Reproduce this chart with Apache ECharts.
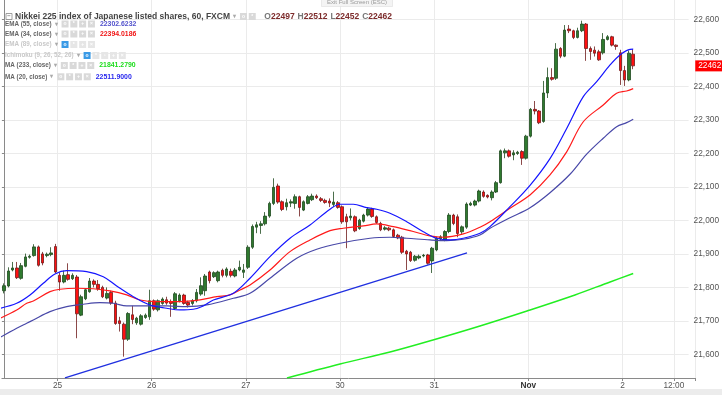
<!DOCTYPE html>
<html><head><meta charset="utf-8">
<script src="https://cdn.jsdelivr.net/npm/echarts@6/dist/echarts.min.js"></script>
<style>html,body{margin:0;padding:0;background:#fff}#c{width:722px;height:395px}</style>
</head><body><div id="c"></div>
<script>
// ---- data ----
// hourly candles [open, close, low, high]
const candles = [
[21790,21805,21782,21812],[21804,21849,21800,21860],[21852,21858,21848,21876],[21858,21829,21825,21876],
[21827,21865,21823,21873],[21863,21891,21860,21901],[21890,21893,21886,21898],[21895,21921,21892,21929],
[21921,21866,21862,21925],[21900,21873,21866,21906],[21895,21899,21890,21904],[21898,21903,21893,21920],
[21922,21846,21843,21930],[21836,21816,21790,21845],[21816,21836,21812,21850],[21838,21824,21820,21872],
[21826,21836,21822,21842],[21831,21721,21648,21837],[21717,21772,21714,21778],[21766,21793,21762,21798],
[21787,21819,21784,21828],[21819,21809,21800,21824],[21809,21796,21790,21822],[21800,21772,21768,21805],
[21768,21782,21764,21800],[21785,21753,21748,21790],[21753,21692,21688,21760],[21700,21692,21668,21712],
[21690,21645,21593,21695],[21645,21722,21640,21726],[21718,21704,21690,21745],[21694,21708,21688,21712],
[21690,21715,21686,21720],[21710,21717,21706,21722],[21712,21760,21703,21793],[21760,21735,21730,21764],
[21733,21760,21728,21764],[21752,21765,21748,21770],[21763,21753,21748,21772],[21758,21752,21712,21764],
[21737,21781,21733,21786],[21760,21777,21755,21782],[21777,21752,21748,21781],[21755,21747,21740,21760],
[21752,21760,21746,21765],[21760,21785,21755,21795],[21780,21805,21775,21830],[21790,21834,21775,21840],
[21846,21820,21812,21850],[21832,21844,21828,21848],[21820,21846,21815,21850],[21851,21836,21830,21856],
[21836,21855,21830,21860],[21848,21836,21830,21856],[21834,21852,21830,21858],[21852,21860,21848,21880],
[21845,21852,21828,21870],[21860,21920,21855,21926],[21920,21982,21915,21988],[21980,21987,21962,21996],
[21985,21990,21960,21998],[21990,22013,21985,22025],[22013,22051,22008,22056],[22051,22099,22046,22126],
[22103,22055,22050,22110],[22056,22033,22028,22060],[22041,22053,22030,22065],[22052,22056,22040,22063],
[22051,22071,22035,22078],[22071,22039,22012,22074],[22031,22056,22028,22060],[22051,22071,22048,22076],
[22062,22073,22058,22080],[22073,22068,22064,22078],[22065,22060,22055,22070],[22060,22054,22050,22065],
[22058,22052,22040,22066],[22048,22055,22040,22086],[22053,22039,22035,22058],[22041,21996,21990,22045],
[22011,21996,21917,22020],[22008,22013,22000,22036],[22011,21969,21965,22015],[21976,22001,21972,22005],
[21998,22016,21994,22020],[22016,22034,22012,22040],[22034,22012,22008,22038],[22011,21994,21990,22015],
[21991,21972,21968,21996],[21974,21978,21970,21983],[21977,21972,21968,21981],[21972,21952,21948,21976],
[21956,21948,21944,21960],[21950,21905,21900,21954],[21908,21900,21852,21912],[21905,21880,21876,21909],
[21881,21893,21877,21897],[21888,21893,21884,21898],[21894,21896,21890,21900],[21897,21872,21868,21900],
[21879,21917,21843,21921],[21912,21947,21908,21952],[21945,21951,21940,21956],[21942,21967,21938,21971],
[21967,22016,21962,22022],[22016,21991,21986,22020],[22011,21961,21950,22018],[21966,21981,21960,21985],
[21980,22049,21975,22054],[22046,22051,22043,22056],[22046,22058,22042,22062],[22058,22088,22054,22092],
[22085,22072,22068,22090],[22075,22070,22066,22078],[22068,22085,22060,22090],[22085,22113,22082,22118],
[22113,22208,22110,22212],[22202,22208,22186,22215],[22208,22192,22188,22212],[22196,22202,22180,22210],
[22200,22204,22196,22208],[22206,22186,22166,22210],[22186,22252,22182,22256],[22252,22332,22248,22336],
[22332,22327,22317,22357],[22327,22292,22288,22330],[22296,22381,22292,22417],[22381,22427,22366,22457],
[22427,22422,22418,22455],[22425,22512,22420,22530],[22514,22491,22485,22518],[22491,22569,22488,22584],
[22572,22567,22560,22584],[22567,22547,22542,22570],[22547,22567,22544,22576],[22567,22587,22563,22597],
[22587,22514,22477,22590],[22514,22505,22480,22520],[22509,22500,22490,22520],[22504,22480,22477,22510],
[22501,22541,22496,22560],[22541,22549,22538,22554],[22549,22524,22520,22552],[22524,22520,22510,22526],
[22501,22448,22405,22510],[22448,22420,22402,22462],[22420,22500,22416,22508],[22497,22462,22452,22512]
];
// indicator lines: [candle index, value]
const ma20 = [[-0.94,21737.6],[2.96,21752.5],[6.07,21777.4],[9.17,21812.3],[11.91,21840.1],[14.64,21850.0],[19.31,21847.0],[23.19,21832.0],[26.32,21804.2],[30.2,21772.3],[34.1,21747.5],[38.0,21737.6],[41.1,21732.5],[44.2,21734.6],[46.56,21744.5],[48.9,21762.4],[53.57,21782.4],[57.47,21827.3],[62.14,21891.8],[66.81,21946.8],[71.49,21986.6],[76.16,22033.5],[78.5,22048.4],[81.6,22048.4],[84.73,22038.3],[87.07,22033.5],[90.18,22021.5],[94.08,21996.4],[97.96,21966.5],[101.09,21946.8],[104.2,21941.7],[107.3,21946.8],[111.2,21961.7],[113.54,21981.5],[118.21,22041.2],[122.89,22105.0],[127.56,22185.0],[131.46,22275.0],[135.34,22370.0],[138.47,22414.8],[141.6,22464.7],[143.9,22494.6],[146.26,22511.6],[147,22511.9]];
const ema34 = [[-0.94,21707.7],[2.96,21732.5],[5.29,21752.5],[6.84,21759.4],[10.74,21787.2],[13.07,21794.4],[16.98,21797.4],[20.86,21795.9],[24.76,21789.3],[28.66,21777.4],[31.77,21762.4],[35.67,21757.3],[41.11,21757.3],[45.79,21762.4],[49.69,21772.3],[52.8,21777.4],[55.13,21792.3],[57.47,21807.2],[62.14,21852.1],[66.81,21906.8],[71.49,21941.7],[76.16,21969.5],[79.27,21976.7],[83.94,21983.6],[87.07,21989.5],[90.95,21981.5],[94.85,21969.5],[99.52,21953.7],[102.63,21949.8],[107.3,21959.7],[111.2,21979.7],[113.54,21996.4],[118.21,22036.5],[122.89,22076.0],[127.56,22136.0],[131.46,22205.0],[135.34,22295.0],[140.0,22345.2],[143.13,22380.2],[145.47,22387.0],[147,22394.0186]];
const ema55 = [[-0.94,21650.3],[2.96,21677.8],[5.29,21692.8],[6.84,21702.6],[10.74,21727.4],[14.64,21742.4],[18.52,21749.6],[22.42,21754.3],[25.53,21752.5],[28.66,21744.5],[33.33,21744.5],[38.0,21744.5],[42.68,21742.4],[47.35,21747.5],[53.57,21767.5],[57.47,21782.4],[62.14,21827.3],[68.38,21887.0],[73.05,21913.9],[78.5,21931.9],[85.5,21946.8],[90.18,21949.8],[94.08,21946.8],[99.52,21941.7],[103.4,21939.6],[107.3,21943.8],[111.2,21956.7],[113.54,21976.7],[118.21,22008.0],[122.89,22038.0],[127.56,22083.0],[132.23,22138.0],[136.13,22198.0],[140.0,22245.7],[143.13,22280.3],[145.47,22292.3],[147,22302.6232]];
const ma233 = [[66.1,21529.3],[78.5,21571.1],[90.18,21607.0],[100.22,21642.9],[111.2,21684.7],[122.18,21729.5],[133.4,21777.4],[141.6,21816.2],[147,21841.279]];
const trendLine = [[14.24,21529.3],[108.17,21902.9]];
// x axis
const slotCount = 162;
const dayLabels = ['25','26','27','30','31','Nov','2','12:00'];
const dayLabelSlots = [13,35,57,79,101,123,145,157];
// y axis ticks
const yTickMin = 21600, yTickMax = 22600, yTickStep = 100;

// ---- chart ----
const FONT = 'Liberation Sans, Arial, sans-serif';
const categories = Array.from({length: slotCount}, (_, i) => String(i));
const labelMap = {};
dayLabelSlots.forEach((s, k) => { labelMap[s] = dayLabels[k]; });
const isDay = (i) => labelMap[i] !== undefined;
const last = candles[candles.length - 1];
const lastVal = (arr) => arr[arr.length - 1][1];

const slotW = 4.28, gridLeft = 1.9;
const gridRight = 722 - gridLeft - slotCount * slotW;
// y mapping: 22600 at y=19.7, 21600 at y=354.3
const pxPerUnit = (354.3 - 19.7) / (yTickMax - yTickMin);
const yMaxMain = yTickMax + 19.7 / pxPerUnit;
const yMinMain = yTickMin - (378 - 354.3) / pxPerUnit;

const icon = (bg) => ({width: 7, height: 7, backgroundColor: bg, color: '#fff', fontSize: 5, align: 'center', lineHeight: 7, fontFamily: FONT});
const rich = {
  box: {width: 6, height: 6, borderColor: '#888', borderWidth: 0.8, color: '#777', fontSize: 6, lineHeight: 6, align: 'center', fontFamily: FONT},
  t: {fontSize: 8.5, color: '#444', fontFamily: FONT, padding: [0, 0, 0, 3]},
  n: {fontSize: 6.3, color: '#666', fontFamily: FONT},
  nf: {fontSize: 6.3, color: '#c8c8c8', fontFamily: FONT},
  a: {fontSize: 5.5, color: '#aaa', fontFamily: FONT, padding: [0, 4, 0, 3]},
  s: {fontSize: 3, width: 1.8, fontFamily: FONT},
  ic: icon('#d9d9d9'),
  icl: icon('#e6e6e6'),
  icb: icon('#3a9ae6'),
  l: {fontSize: 8.5, color: '#777', fontFamily: FONT},
  ov: {fontSize: 8.5, color: '#7c2b2b', fontFamily: FONT, padding: [0, 3, 0, 0]},
  v55: {fontSize: 6.9, color: '#5252cc', fontFamily: FONT, padding: [0, 0, 0, 5]},
  v34: {fontSize: 6.9, color: '#f01515', fontFamily: FONT, padding: [0, 0, 0, 5]},
  v233: {fontSize: 6.9, color: '#1bdc1b', fontFamily: FONT, padding: [0, 0, 0, 5]},
  v20: {fontSize: 6.9, color: '#2727ee', fontFamily: FONT, padding: [0, 0, 0, 5]}
};
const icons4 = '{ic|o}{s| }{ic|*}{s| }{ic|+}{s| }{ic|×}';
const rows = [
  {y: 20.5, text: '{n|EMA (55, close)}{a|▾}' + icons4 + '{v55|' + lastVal(ema55).toFixed(4) + '}'},
  {y: 30.5, text: '{n|EMA (34, close)}{a|▾}' + icons4 + '{v34|' + lastVal(ema34).toFixed(4) + '}'},
  {y: 41, text: '{nf|EMA (89, close)}{a|▾}{icb|o}{s| }{icl|*}{s| }{icl|+}{s| }{icl|×}'},
  {y: 52, text: '{nf|Ichimoku (9, 26, 52, 26)}{a|▾}{icb|o}{s| }{icl|*}{s| }{icl|▫}{s| }{icl|+}{s| }{icl|×}'},
  {y: 62, text: '{n|MA (233, close)}{a|▾}' + icons4 + '{v233|' + lastVal(ma233).toFixed(4) + '}'},
  {y: 73.3, text: '{n|MA (20, close)}{a|▾}' + icons4 + '{v20|' + lastVal(ma20).toFixed(4) + '}'}
];
const titleText = '{box|−}{t|Nikkei 225 index of Japanese listed shares, 60, FXCM}{a|▾}{ic|o}{s| }{ic|*}{s| }{s| } ' +
  '{l|O}{ov|' + last[0] + '}{l|H}{ov|' + last[3] + '}{l|L}{ov|' + last[2] + '}{l|C}{ov|' + last[1] + '}';

const lineSeries = (data, color, width, z) => ({
  type: 'line', xAxisIndex: 2, yAxisIndex: 0, data: data, showSymbol: false, smooth: 0.35,
  lineStyle: {color: color, width: width}, silent: true, z: z, clip: true
});

const option = {
  animation: false,
  backgroundColor: '#ffffff',
  textStyle: {fontFamily: FONT},
  title: [
    {left: 6, top: 7.5, padding: 0, text: titleText, textStyle: {rich: rich}},
    {left: 321, top: -4, text: 'Exit Full Screen (ESC)', backgroundColor: '#f4f4f4', borderColor: '#dddddd', borderWidth: 0.6,
     padding: [3, 6, 2, 6], textStyle: {fontSize: 6, color: '#9a9a9a', fontWeight: 'normal', fontFamily: FONT}}
  ].concat(rows.map(r => ({left: 5, top: r.y, text: r.text, padding: 0, textStyle: {rich: rich}}))),
  grid: [
    {left: gridLeft, right: gridRight, top: 0, bottom: 17},
    {left: gridLeft, right: gridRight, top: 19.7, bottom: 395 - 354.3}
  ],
  xAxis: [
    {type: 'category', gridIndex: 0, data: categories, boundaryGap: true,
     axisLine: {lineStyle: {color: '#8a8a8a', width: 1}},
     axisTick: {show: true, interval: (i) => isDay(i), length: 3, lineStyle: {color: '#8a8a8a'}},
     axisLabel: {interval: (i) => isDay(i), margin: 4, fontSize: 8.3, color: '#555', fontFamily: FONT,
       padding: [0, slotW, 0, 0],
       formatter: (v) => { const t = labelMap[v]; if (t === undefined) return ''; return t === 'Nov' ? '{b|Nov}' : t; },
       rich: {b: {fontWeight: 'bold', fontSize: 8.3, color: '#333', fontFamily: FONT}}},
     splitLine: {show: true, interval: (i) => isDay(i), lineStyle: {color: '#ebebeb', width: 1}}},
    {type: 'value', gridIndex: 1, show: false, min: 0, max: 1},
    {type: 'value', gridIndex: 0, show: false, min: -0.5, max: slotCount - 0.5}
  ],
  yAxis: [
    {type: 'value', gridIndex: 0, position: 'right', min: yMinMain, max: yMaxMain, scale: true,
     axisLine: {show: true, lineStyle: {color: '#8a8a8a', width: 1}}, axisTick: {show: false},
     axisLabel: {show: false}, splitLine: {show: false}},
    {type: 'value', gridIndex: 1, position: 'right', min: yTickMin, max: yTickMax, interval: yTickStep,
     axisLine: {show: false},
     axisTick: {show: true, length: 3, lineStyle: {color: '#8a8a8a'}},
     axisLabel: {margin: 5, fontSize: 8.3, color: '#555', fontFamily: FONT},
     splitLine: {show: true, lineStyle: {color: '#ebebeb', width: 1}}}
  ],
  series: [
    {type: 'candlestick', xAxisIndex: 0, yAxisIndex: 0, data: candles, barWidth: 3, z: 3,
     itemStyle: {color: '#2f7a2f', color0: '#ff1010', borderColor: '#1e4a1e', borderColor0: '#6e1a1a', borderWidth: 0.8},
     markLine: {symbol: 'none', silent: true, animation: false,
       lineStyle: {color: 'rgba(0,0,0,0)', width: 0},
       label: {position: 'end', distance: 0, formatter: String(last[1]), backgroundColor: '#ff0000', color: '#fff',
         fontSize: 8.3, fontFamily: FONT, padding: [2, 4, 1, 3]},
       data: [{yAxis: last[1]}]}},
    lineSeries(trendLine, '#2030e0', 1.4, 4),
    lineSeries(ma233, '#22ee22', 1.5, 5),
    lineSeries(ema55, '#4848a8', 1.2, 6),
    lineSeries(ema34, '#ff1a1a', 1.2, 7),
    lineSeries(ma20, '#1515ff', 1.2, 8)
  ],
  graphic: [
    {type: 'rect', silent: true, shape: {x: 0, y: 389, width: 722, height: 6}, style: {fill: '#ececec'}}
  ]
};
const chart = echarts.init(document.getElementById('c'), null, {renderer: 'canvas', width: 722, height: 395});
chart.setOption(option);
</script>
</body></html>
